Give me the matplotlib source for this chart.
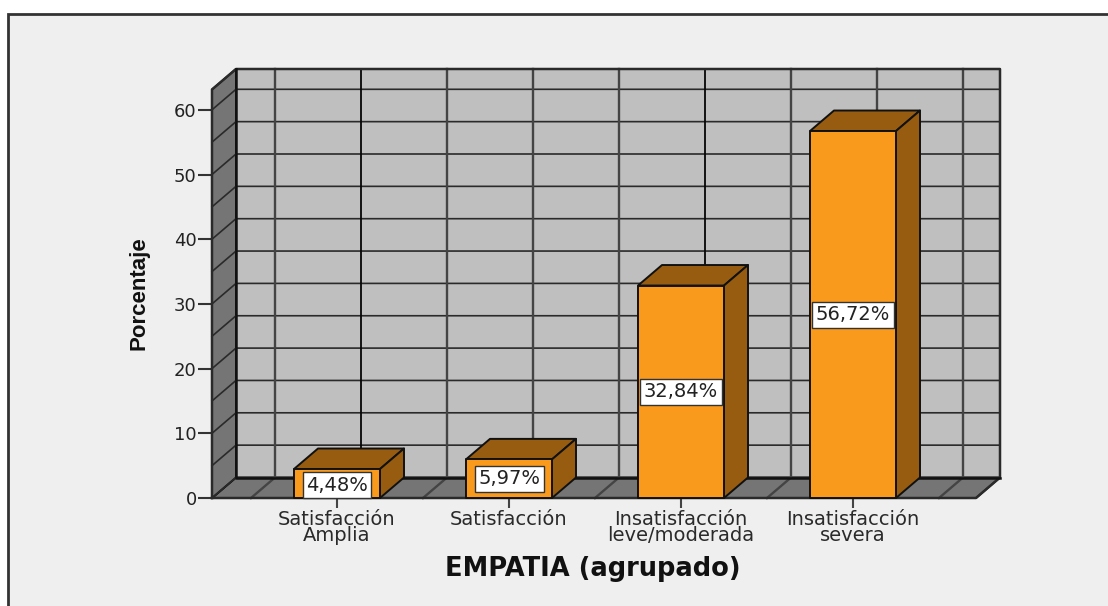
import numpy as np
import matplotlib
matplotlib.use("Agg")
import matplotlib.pyplot as plt
from matplotlib.patches import Polygon, Rectangle

categories = ["Satisfacción\nAmplia", "Satisfacción", "Insatisfacción\nleve/moderada", "Insatisfacción\nsevera"]
values = [4.48, 5.97, 32.84, 56.72]
y_ticks = [0, 10, 20, 30, 40, 50, 60]
grid_y = [0, 5, 10, 15, 20, 25, 30, 35, 40, 45, 50, 55, 60]
grid_x = [-0.5, 0, 0.5, 1, 1.5, 2, 2.5, 3, 3.5]
x_label = "EMPATIA (agrupado)"
y_label = "Porcentaje"

W, H = 1108, 606
PX_UNIT = 6.47
PX_CAT = 172.0
fig = plt.figure(figsize=(W / 100, H / 100), dpi=100, facecolor="white")
fig.patches.append(Rectangle((8 / W, -0.02), 1.1, (606 - 14) / H + 0.02, transform=fig.transFigure,
                             facecolor="#EFEFEF", edgecolor="#333333", linewidth=2, zorder=-5))

ax = fig.add_axes([212 / W, (H - 498) / H, 764 / W, 429 / H])
ax.patch.set_visible(False)
for s in ax.spines.values():
    s.set_visible(False)
x0, x1 = (212 - 337) / PX_CAT, (976 - 337) / PX_CAT
ymax = 429 / PX_UNIT
ax.set_xlim(x0, x1)
ax.set_ylim(0, ymax)
dx, dy = 24 / PX_CAT, 20.5 / PX_UNIT
top = ymax - dy

WALL, FLOOR = "#BFBFBF", "#757575"
ORANGE, BROWN = "#F99A1C", "#975C10"

def poly(pts, fc, ec="#111111", lw=1.4, z=2):
    ax.add_patch(Polygon(pts, closed=True, facecolor=fc, edgecolor=ec, linewidth=lw, zorder=z,
                         clip_on=False, joinstyle="round"))

poly([(x0 + dx, dy), (x1 + dx, dy), (x1 + dx, top + dy), (x0 + dx, top + dy)], WALL, z=1)
poly([(x0, 0), (x1, 0), (x1 + dx, dy), (x0 + dx, dy)], FLOOR, z=1)
poly([(x0, 0), (x0 + dx, dy), (x0 + dx, top + dy), (x0, top)], FLOOR, z=1)

for g in grid_y:
    ax.plot([x0, x0 + dx, x1 + dx], [g, g + dy, g + dy], color="#2A2A2A", lw=1.2, zorder=1.5, clip_on=False)
for g in grid_x:
    black = g in (0, 2)
    ax.plot([g, g + dx, g + dx], [0, dy, top + dy], color="#050505" if black else "#444444",
            lw=1.3 if black else 1.7, zorder=1.5, clip_on=False)
# outer frame lines
ax.plot([x0, x0, x0 + dx, x1 + dx, x1 + dx, x1, x0], [0, top, top + dy, top + dy, dy, 0, 0],
        color="#2A2A2A", lw=1.8, zorder=1.6, clip_on=False)
ax.plot([x0 + dx, x0 + dx, x1 + dx], [top + dy, dy, dy], color="#111111", lw=1.8, zorder=1.6, clip_on=False)

bw = 0.5
for i, v in enumerate(values):
    l, r = i - bw / 2, i + bw / 2
    z = 3 + i * 0.01
    poly([(l, v), (r, v), (r + dx, v + dy), (l + dx, v + dy)], BROWN, z=z)
    poly([(r, 0), (r + dx, dy), (r + dx, v + dy), (r, v)], BROWN, z=z)
    poly([(l, 0), (r, 0), (r, v), (l, v)], ORANGE, z=z)
    ax.text(i, v / 2 if v > 5 else 2.0, f"{v:.2f}".replace(".", ",") + "%",
            ha="center", va="center", fontsize=14, color="#222222", family="DejaVu Sans", zorder=5,
            bbox=dict(boxstyle="square,pad=0.18", facecolor="white", edgecolor="#333333", linewidth=1.0))

ax.set_yticks(y_ticks)
ax.set_yticklabels([str(t) for t in y_ticks], fontsize=13, color="#222222", family="DejaVu Sans")
ax.tick_params(axis="y", length=10, width=1.5, color="#333333", pad=1)
ax.set_xticks(range(len(categories)))
ax.set_xticklabels(categories, fontsize=14, color="#2A2A2A", family="DejaVu Sans", linespacing=0.82)
ax.tick_params(axis="x", length=7, width=1.5, color="#444444", pad=1.5)

fig.text(593 / W, 1 - 569 / H, x_label, ha="center", va="center", fontsize=18.5, fontweight="bold",
         color="#111111", family="DejaVu Sans")
fig.text(139 / W, 1 - 293 / H, y_label, ha="center", va="center", rotation=90, fontsize=16, fontweight="bold",
         color="#111111", family="Liberation Sans")

fig.savefig("out.png", dpi=100, facecolor="white")
